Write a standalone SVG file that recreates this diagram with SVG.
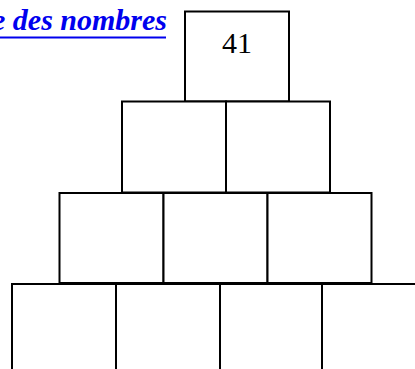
<svg xmlns="http://www.w3.org/2000/svg" width="415" height="369" viewBox="0 0 415 369">
<style>
.box{fill:#fff;stroke:#000;stroke-width:2}
.num{font-family:"Liberation Serif",serif;font-size:30px;fill:#000;text-anchor:middle}
.title{font-family:"Liberation Serif",serif;font-size:30px;font-style:italic;font-weight:bold;fill:#0000ee;text-anchor:end}
</style>
<rect width="415" height="369" fill="#fff"/>
<text class="title" x="167" y="29.5">e des nombres</text>
<line x1="-2" y1="37.5" x2="166" y2="37.5" stroke="#0000ee" stroke-width="2"/>
<g id="row1">
<g id="n41"><rect class="box" x="185" y="11.5" width="104" height="90"/><text class="num" x="237" y="53">41</text></g>
</g>
<g id="row2">
<g id="r2c1"><rect class="box" x="122" y="101.5" width="104" height="91"/></g>
<g id="r2c2"><rect class="box" x="226" y="101.5" width="104" height="91"/></g>
</g>
<g id="row3">
<g id="r3c1"><rect class="box" x="59.5" y="193" width="104" height="90"/></g>
<g id="r3c2"><rect class="box" x="163.5" y="193" width="104" height="90"/></g>
<g id="r3c3"><rect class="box" x="267.5" y="193" width="104" height="90"/></g>
</g>
<g id="row4">
<g id="r4c1"><rect class="box" x="12" y="284" width="104" height="95"/></g>
<g id="r4c2"><rect class="box" x="116" y="284" width="104" height="95"/></g>
<g id="r4c3"><rect class="box" x="220" y="284" width="102" height="95"/></g>
<g id="r4c4"><rect class="box" x="322" y="284" width="104" height="95"/></g>
</g>
<g id="connectors"></g>
</svg>
